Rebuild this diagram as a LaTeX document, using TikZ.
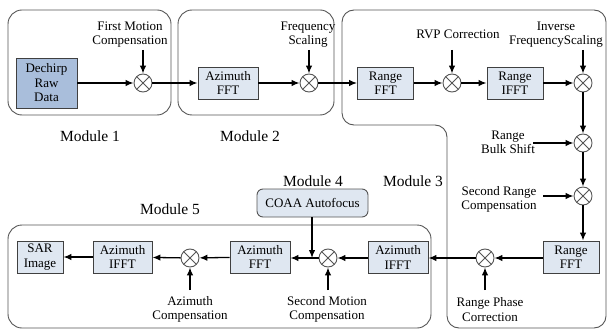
\documentclass[tikz,border=0pt]{standalone}
\usepackage{fontspec}
\setmainfont{Liberation Serif}
\usetikzlibrary{arrows.meta}
\definecolor{darkfill}{HTML}{A9BEDB}
\definecolor{lightfill}{HTML}{DFE7F1}
\definecolor{modgray}{HTML}{555555}
\begin{document}
\begin{tikzpicture}[x=1pt,y=-1pt,
  font=\fontsize{13}{14.5}\selectfont,
  proc/.style={draw=black!75,line width=0.9pt,fill=lightfill,minimum height=32pt,inner sep=1pt,align=center},
  mult/.style={circle,draw=modgray,line width=0.9pt,fill=white,minimum size=18pt,inner sep=0pt,
    path picture={\draw[modgray,line width=0.8pt,shift={(path picture bounding box.center)}] (-6.4pt,-6.4pt)--(6.4pt,6.4pt) (-6.4pt,6.4pt)--(6.4pt,-6.4pt);}},
  lbl/.style={align=center,inner sep=0pt},
  modlbl/.style={font=\fontsize{15.5}{17}\selectfont,inner sep=0pt},
  modbox/.style={draw=modgray,line width=0.9pt,rounded corners=14pt},
  conn/.style={line width=1.3pt,-{Latex[length=8pt,width=6.5pt]}}
]
\useasboundingbox (0,0) rectangle (609,331);
% module outlines
\draw[modbox] (8,10) rectangle (171,115);
\draw[modbox] (178,10) rectangle (334,115);
\draw[modbox] (8,225) rectangle (431,328);
\draw[draw=modgray,line width=0.9pt,rounded corners=12pt] (342,10) -- (606,10) -- (606,328) -- (447,328) -- (447,125) -- (342,125) -- cycle;
\node[draw=modgray,line width=0.9pt,fill=lightfill,rounded corners=6pt,minimum width=111pt,minimum height=28pt,inner sep=1pt] (coaa) at (312.5,203) {COAA Autofocus};
% module labels
\node[modlbl] (ml1) at (90,136) {Module 1};
\node[modlbl] (ml2) at (250,136) {Module 2};
\node[modlbl] (ml3) at (413,181) {Module 3};
\node[modlbl] (ml4) at (313,181) {Module 4};
\node[modlbl] (ml5) at (170,209) {Module 5};
% processing boxes
\node[proc,fill=darkfill,minimum width=61pt,minimum height=50pt] (raw) at (46.5,83) {Dechirp\\Raw\\Data};
\node[proc,minimum width=60pt] (azfft) at (228,83) {Azimuth\\FFT};
\node[proc,minimum width=56pt] (rfft) at (385.5,83) {Range\\FFT};
\node[proc,minimum width=56pt] (rifft) at (515,83) {Range\\IFFT};
\node[proc,minimum width=56pt] (rfft2) at (571,257) {Range\\FFT};
\node[proc,minimum width=60pt] (azifft) at (398,257.5) {Azimuth\\IFFT};
\node[proc,minimum width=60pt] (azfft2) at (260,257) {Azimuth\\FFT};
\node[proc,minimum width=59pt] (azifft2) at (122.5,257) {Azimuth\\IFFT};
\node[proc,minimum width=46pt] (sar) at (40,257) {SAR\\Image};
% multipliers
\node[mult] (m1) at (143,83) {};
\node[mult] (m2) at (309,83) {};
\node[mult] (m3) at (452,83) {};
\node[mult] (m4) at (583,83) {};
\node[mult] (m5) at (583,143) {};
\node[mult] (m6) at (583,196) {};
\node[mult] (m7) at (485,258) {};
\node[mult] (m8) at (328,258) {};
\node[mult] (m9) at (190,258) {};
% text labels
\node[lbl] (t1) at (130,34.5) {First Motion\\Compensation};
\node[lbl] (t2) at (308,34.5) {Frequency\\Scaling};
\node[lbl] (t3) at (458,34) {RVP Correction};
\node[lbl] (t4) at (556,34.5) {Inverse\\FrequencyScaling};
\node[lbl] (t5) at (508,142.5) {Range\\Bulk Shift};
\node[lbl] (t6) at (499,199.5) {Second Range\\Compensation};
\node[lbl] (t7) at (490,309.5) {Range Phase\\Correction};
\node[lbl] (t8) at (327,309.5) {Second Motion\\Compensation};
\node[lbl] (t9) at (190,309.5) {Azimuth\\Compensation};
% free ends
\coordinate (a1) at (143,50);
\coordinate (a2) at (309,50);
\coordinate (a3) at (452,50);
\coordinate (a4) at (583,50);
\coordinate (a5) at (533,143);
\coordinate (a6) at (543,196);
\coordinate (a7) at (485,290);
\coordinate (a8) at (328,290);
\coordinate (a9) at (190,290);
\coordinate (j) at (312,258);
% connectors
\draw[conn] (raw) -- (m1);
\draw[conn] (m1) -- (azfft);
\draw[conn] (azfft) -- (m2);
\draw[conn] (m2) -- (rfft);
\draw[conn] (rfft) -- (m3);
\draw[conn] (m3) -- (rifft);
\draw[conn] (rifft) -- (m4);
\draw[conn] (m4) -- (m5);
\draw[conn] (m5) -- (m6);
\draw[conn] (m6) -- (m6 |- rfft2.north);
\draw[conn] (rfft2.west |- m7) -- (m7);
\draw[conn] (m7) -- (azifft.east |- m7);
\draw[conn] (azifft.west |- m8) -- (m8);
\draw[conn] (m8) -- (azfft2.east |- m8);
\draw[conn] (azfft2) -- (m9);
\draw[conn] (m9) -- (azifft2);
\draw[conn] (azifft2) -- (sar);
\draw[conn] (a1) -- (m1);
\draw[conn] (a2) -- (m2);
\draw[conn] (a3) -- (m3);
\draw[conn] (a4) -- (m4);
\draw[conn] (a5) -- (m5);
\draw[conn] (a6) -- (m6);
\draw[conn] (a7) -- (m7);
\draw[conn] (a8) -- (m8);
\draw[conn] (a9) -- (m9);
\draw[conn] (coaa.south -| j) -- (j);
\end{tikzpicture}
\end{document}
